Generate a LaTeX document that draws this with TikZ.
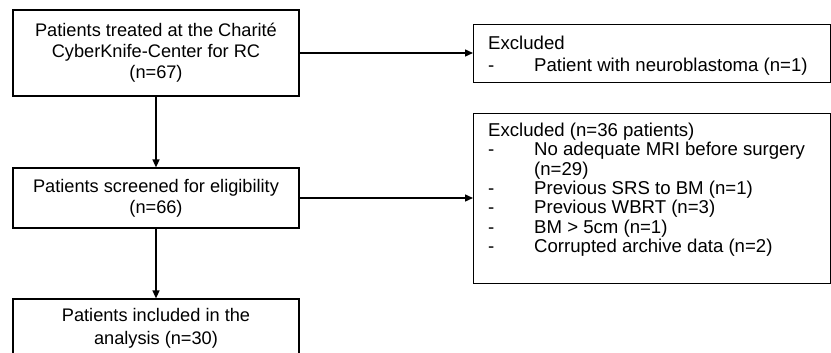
\documentclass[tikz,border=0pt]{standalone}
\usepackage{fontspec}
\setmainfont{Liberation Sans}
\usetikzlibrary{positioning,arrows.meta}
\newcommand{\exitem}[1]{\makebox[46pt][l]{-}#1}

\begin{document}
\begin{tikzpicture}[
            x=1pt, y=-1pt,
            font=\fontsize{18.2}{21}\selectfont,
            main box/.style={rectangle,draw,line width=1.2pt,align=center,minimum width=286pt,inner sep=0pt},
            side box/.style={rectangle,draw,line width=1.2pt,anchor=north west,minimum width=357pt,inner sep=0pt},
            side text/.style={anchor=north west,inner sep=0pt,align=left},
            every edge/.style={draw,line width=1.4pt,-{Triangle[length=8pt,width=7pt]}},
        ]
            \useasboundingbox (0,0) rectangle (831,353);
            \clip (0,0) rectangle (831,353);

            \node[main box,minimum height=86pt] (treated) at (156,53) {Patients treated at the Charité\\CyberKnife-Center for RC\\(n=67)};
            \node[main box,minimum height=60pt] (screened) at (156,198) {Patients screened for eligibility\\(n=66)};
            \node[main box,minimum height=59pt,font=\fontsize{18.2}{23}\selectfont] (included) at (156,328.5) {Patients included in the\\analysis (n=30)};

            \node[side box,minimum height=58pt] (exone) at (473,24) {};
            \node[side text,font=\fontsize{18.6}{22}\selectfont] (exonetext) at (488,36) {Excluded\\\exitem{Patient with neuroblastoma (n=1)}};
            \node[side box,minimum height=170pt] (extwo) at (473,113) {};
            \node[side text,font=\fontsize{18.6}{19.3}\selectfont] (extwotext) at (488,123) {Excluded (n=36 patients)\\
                \exitem{No adequate MRI before surgery}\\
                \hspace*{46pt}(n=29)\\
                \exitem{Previous SRS to BM (n=1)}\\
                \exitem{Previous WBRT (n=3)}\\
                \exitem{BM > 5cm (n=1)}\\
                \exitem{Corrupted archive data (n=2)}};

            \path (treated) edge (screened);
            \path (screened) edge (included);
            \path (treated.east) edge (treated.east -| exone.west);
            \path (screened.east) edge (screened.east -| extwo.west);
        \end{tikzpicture}
\end{document}
